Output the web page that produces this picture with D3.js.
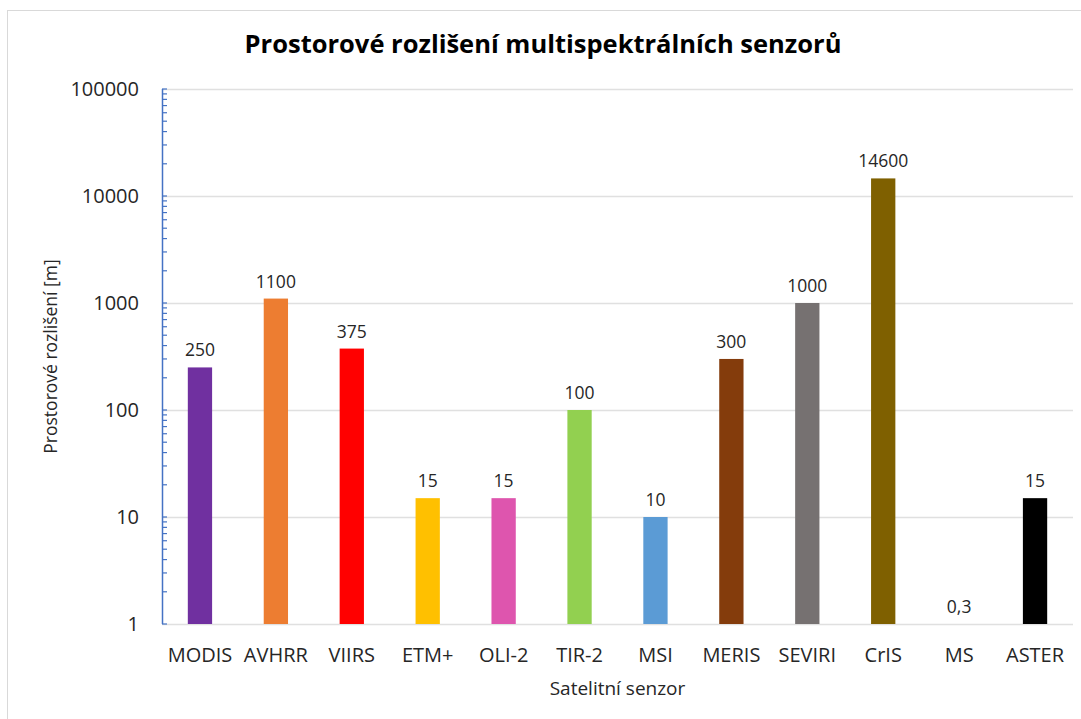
<!DOCTYPE html>
<html>
<head>
<meta charset="utf-8">
<script src="https://cdn.jsdelivr.net/npm/d3@7"></script>
<style>
  body { margin: 0; background: #fff; }
  text { font-family: "Open Sans", "Noto Sans", sans-serif; fill: #000; }
</style>
</head>
<body>
<div id="chart"></div>
<script>
// Data
var senzory = ["MODIS", "AVHRR", "VIIRS", "ETM+", "OLI-2", "TIR-2", "MSI", "MERIS", "SEVIRI", "CrIS", "MS", "ASTER"];
var rozliseni = [250, 1100, 375, 15, 15, 100, 10, 300, 1000, 14600, 0.3, 15];
var popisky = ["250", "1100", "375", "15", "15", "100", "10", "300", "1000", "14600", "0,3", "15"];
var barvy = ["#7030A0", "#ED7D31", "#FF0000", "#FFC000", "#DE55AE", "#92D050", "#5B9BD5", "#843C0C", "#767171", "#7F6000", "#A5A5A5", "#000000"];
var yTicks = [1, 10, 100, 1000, 10000, 100000];

var W = 1081, H = 719;
var margin = {top: 89, right: 8, bottom: 95, left: 162};
var width = W - margin.left - margin.right;
var height = H - margin.top - margin.bottom;

var svg = d3.select("#chart").append("svg")
  .attr("width", W)
  .attr("height", H);

//Rámeček grafu
svg.append("rect")
  .attr("x", 7.5).attr("y", 10.5)
  .attr("width", W + 20).attr("height", H + 20)
  .attr("fill", "none").attr("stroke", "#d9d9d9");

svg.append("text")
  .attr("x", 543).attr("y", 53)
  .attr("text-anchor", "middle")
  .style("font-size", "25.5px").style("font-weight", "bold")
  .text("Prostorové rozlišení multispektrálních senzorů");

var g = svg.append("g").attr("transform", "translate(" + margin.left + "," + margin.top + ")");

var x = d3.scaleBand().domain(senzory).range([0, width]).paddingInner(0.68).paddingOuter(0.34);
var y = d3.scaleLog().domain([1, 100000]).range([height, 0]);

//Mřížka
g.selectAll(".grid").data(yTicks).enter().append("line")
  .attr("x1", 0).attr("x2", width)
  .attr("y1", function(d) { return Math.round(y(d)) + 0.5; })
  .attr("y2", function(d) { return Math.round(y(d)) + 0.5; })
  .attr("stroke", "#e0e0e0").attr("stroke-width", 1.5);

//Sloupce
g.selectAll(".bar").data(senzory).enter().append("rect")
  .attr("x", function(d) { return x(d); })
  .attr("width", x.bandwidth())
  .attr("y", function(d, i) { return rozliseni[i] >= 1 ? y(rozliseni[i]) : height; })
  .attr("height", function(d, i) { return rozliseni[i] >= 1 ? height - y(rozliseni[i]) : 0; })
  .attr("fill", function(d, i) { return barvy[i]; });

//Popisky dat
g.selectAll(".lbl").data(senzory).enter().append("text")
  .attr("x", function(d) { return x(d) + x.bandwidth() / 2; })
  .attr("y", function(d, i) { return (rozliseni[i] >= 1 ? y(rozliseni[i]) : height) - 11; })
  .attr("text-anchor", "middle")
  .style("font-size", "17.5px").style("fill", "#262626")
  .text(function(d, i) { return popisky[i]; });

//Osa Y s vedlejšími dílky
var minor = [];
for (var e = 0; e < 5; e++) {
  for (var k = 2; k <= 9; k++) minor.push(k * Math.pow(10, e));
}
var yAxis = g.append("g");
yAxis.append("line")
  .attr("x1", 0.5).attr("x2", 0.5).attr("y1", 0).attr("y2", height)
  .attr("stroke", "#4472C4").attr("stroke-width", 1.5);
yAxis.selectAll(".mt").data(minor.concat(yTicks)).enter().append("line")
  .attr("x1", 0).attr("x2", 5)
  .attr("y1", function(d) { return y(d); })
  .attr("y2", function(d) { return y(d); })
  .attr("stroke", "#4472C4").attr("stroke-width", 1.2);
yAxis.selectAll(".yl").data(yTicks).enter().append("text")
  .attr("x", -23)
  .attr("y", function(d) { return y(d); })
  .attr("dy", "0.35em")
  .attr("text-anchor", "end")
  .style("font-size", "20px").style("fill", "#262626")
  .text(function(d) { return d; });

//Osa X
g.selectAll(".xl").data(senzory).enter().append("text")
  .attr("x", function(d) { return x(d) + x.bandwidth() / 2; })
  .attr("y", height + 38)
  .attr("text-anchor", "middle")
  .style("font-size", "20px").style("fill", "#262626")
  .text(function(d) { return d; });

svg.append("text")
  .attr("x", margin.left + width / 2).attr("y", 695)
  .attr("text-anchor", "middle")
  .style("font-size", "19px").style("fill", "#262626")
  .text("Satelitní senzor");

svg.append("text")
  .attr("transform", "translate(57," + (margin.top + height / 2) + ") rotate(-90)")
  .attr("text-anchor", "middle")
  .style("font-size", "17.5px").style("fill", "#262626")
  .text("Prostorové rozlišení [m]");
</script>
</body>
</html>
